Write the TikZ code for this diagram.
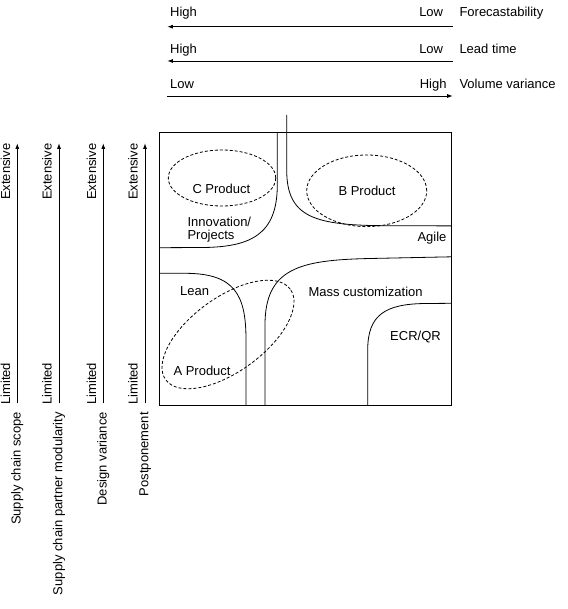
\documentclass[tikz,border=0pt]{standalone}
\usepackage{fontspec}
\setmainfont{Liberation Sans}
\usetikzlibrary{arrows.meta}
\begin{document}
\begin{tikzpicture}[x=1pt,y=1pt,
  lbl/.style={inner sep=0pt, font=\fontsize{13}{15}\selectfont},
  vlbl/.style={lbl, rotate=90},
  ax/.style={line width=0.8pt, -{Latex[length=5.5pt,width=4pt]}},
  curve/.style={line width=0.8pt},
  dsh/.style={line width=0.8pt, dash pattern=on 3pt off 2pt}]
\useasboundingbox (0,0) rectangle (567,-609);

% ---- top axes ----
\coordinate (fL) at (167.3,-26.7); \coordinate (fR) at (452.7,-26.7);
\coordinate (lL) at (167.3,-61);   \coordinate (lR) at (452.7,-61);
\coordinate (vL) at (167.3,-96);   \coordinate (vR) at (452.7,-96);
\draw[ax] (fR) -- (fL);
\draw[ax] (lR) -- (lL);
\draw[ax] (vL) -- (vR);
\node[lbl, anchor=base west] (fh) at (170,-16.7) {High};
\node[lbl, anchor=base east] (fl) at (443.3,-16.7) {Low};
\node[lbl, anchor=base west] (fn) at (459.3,-16.7) {Forecastability};
\node[lbl, anchor=base west] (lh) at (170,-53.3) {High};
\node[lbl, anchor=base east] (ll) at (443.3,-53.3) {Low};
\node[lbl, anchor=base west] (ln) at (459.3,-53.3) {Lead time};
\node[lbl, anchor=base west] (vl) at (170,-88.3) {Low};
\node[lbl, anchor=base east] (vh) at (446.7,-88.3) {High};
\node[lbl, anchor=base west] (vn) at (459.3,-88.3) {Volume variance};

% ---- left axes ----
\foreach \x/\n/\t in {17.3/a/Supply chain scope, 59/b/Supply chain partner modularity, 103.3/c/Design variance, 145/d/Postponement}{
  \coordinate (\n0) at (\x,-403.3);
  \coordinate (\n1) at (\x,-143.3);
  \draw[ax] (\n0) -- (\n1);
  \node[vlbl, anchor=base east] (\n e) at (\x-7.3,-143.3) {Extensive};
  \node[vlbl, anchor=base west] (\n l) at (\x-7.3,-405) {Limited};
  \node[vlbl, anchor=base east] (\n t) at (\x+3.3,-412) {\t};
}

% ---- box ----
\draw[curve] (159.3,-132.3) rectangle (451.7,-405);

% C curve (Innovation/Projects)
\draw[curve] (277.3,-132.3) -- (277.3,-185)
  .. controls (277.3,-235) and (250,-246.5) .. (205,-247.5) -- (159.3,-247.7);
% B curve (Agile)
\draw[curve] (286.7,-115) -- (286.7,-170)
  .. controls (286.7,-218) and (315,-225.7) .. (390,-225.7) -- (451.7,-225.9);
% Lean curve
\draw[curve] (159.3,-273.3) -- (185,-273.3)
  .. controls (235,-273.3) and (246,-295) .. (246,-340) -- (246,-405);
% Mass customization curve
\draw[curve] (265,-405) -- (265,-325)
  .. controls (265,-268) and (300,-260) .. (370,-258.5) -- (451.7,-256.8);
% ECR/QR curve
\draw[curve] (367.7,-405) -- (367.7,-350)
  .. controls (367.7,-315) and (385,-304) .. (425,-303.5) -- (451.7,-303.3);

% ---- dashed ellipses ----
\draw[dsh] (222,-178) ellipse (53.7 and 28);
\draw[dsh] (366.7,-190.8) ellipse (60 and 35.8);
\draw[dsh, rotate around={36:(228,-334.5)}] (228,-334.5) ellipse (77 and 37);

% ---- labels in box ----
\node[lbl, anchor=base west] (cp) at (192.3,-194) {C Product};
\node[lbl, anchor=base west] (inn) at (187.3,-226.5) {Innovation/};
\node[lbl, anchor=base west] (prj) at (187.3,-240) {Projects};
\node[lbl, anchor=base west] (bp) at (338.3,-195.7) {B Product};
\node[lbl, anchor=base west] (ag) at (417.3,-241) {Agile};
\node[lbl, anchor=base west] (le) at (180,-295) {Lean};
\node[lbl, anchor=base west] (mc) at (308.3,-296) {Mass customization};
\node[lbl, anchor=base west] (ecr) at (390,-340) {ECR/QR};
\node[lbl, anchor=base west] (ap) at (173.3,-375) {A Product};
\end{tikzpicture}
\end{document}
